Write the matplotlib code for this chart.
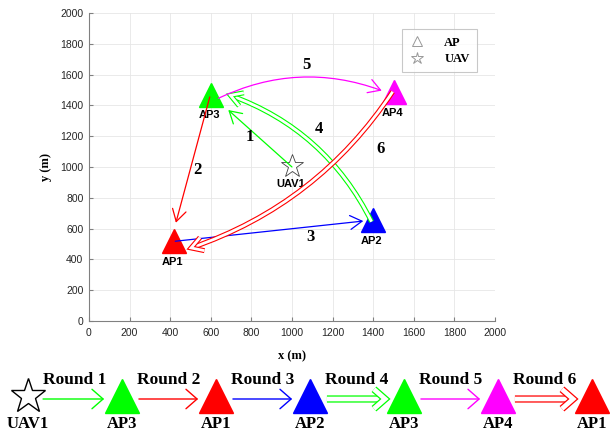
import numpy as np
import matplotlib
matplotlib.use('Agg')
import matplotlib.pyplot as plt
import matplotlib.patheffects as pe
from matplotlib.lines import Line2D

# access points and UAV (m)
ap_names = ['AP1', 'AP2', 'AP3', 'AP4']
ap_x = [420, 1400, 600, 1500]
ap_y = [520, 655, 1470, 1485]
ap_cols = ['#ff0000', '#0000ff', '#00ff00', '#ff00ff']
uav_x, uav_y = 1000, 1005

# flight rounds: start / end of each arrow
r_x0 = [1000, 595, 425, 1392, 637, 1496]
r_y0 = [1000, 1455, 518, 645, 1446, 1489]
r_x1 = [686, 428, 1351, 691, 1442, 497]
r_y1 = [1370, 638, 649, 1468, 1496, 472]
r_cols = ['#00ff00', '#ff0000', '#0000ff', '#00ff00', '#ff00ff', '#ff0000']
r_rad = [0, 0, 0, 0.2, -0.21, -0.17]
r_double = [False, False, False, True, False, True]
r_num = ['1', '2', '3', '4', '5', '6']
num_x = [790, 534, 1092, 1130, 1069, 1437]
num_y = [1197, 981, 544, 1245, 1662, 1115]

# bottom sequence
seq_names = ['UAV1', 'AP3', 'AP1', 'AP2', 'AP3', 'AP4', 'AP1']
seq_cols = ['none', '#00ff00', '#ff0000', '#0000ff', '#00ff00', '#ff00ff', '#ff0000']
round_labels = ['Round 1', 'Round 2', 'Round 3', 'Round 4', 'Round 5', 'Round 6']

serif = 'Liberation Serif'
sans = 'Liberation Sans'


def double_line(col, outer, inner):
    return [pe.Stroke(linewidth=outer, foreground=col, joinstyle='miter', capstyle='butt'),
            pe.Stroke(linewidth=inner, foreground='white', joinstyle='miter', capstyle='butt')]


fig = plt.figure(figsize=(6.1, 4.32), dpi=100)
ax = fig.add_axes([89/610, 1-321/432, 406/610, 308/432])

ax.set_xlim(0, 2000)
ax.set_ylim(0, 2000)
ax.set_xticks(np.arange(0, 2001, 200))
ax.set_yticks(np.arange(0, 2001, 200))
ax.grid(True, color='#e6e6e6', lw=0.6)
ax.set_axisbelow(True)
for s in ['top', 'right']:
    ax.spines[s].set_visible(False)
for s in ['left', 'bottom']:
    ax.spines[s].set_color('#808080')
    ax.spines[s].set_linewidth(0.8)
ax.tick_params(direction='in', length=3, color='#808080', labelsize=7.5,
               labelcolor='#262626', pad=4)
ax.tick_params(axis='x', pad=5)
for t in ax.get_xticklabels() + ax.get_yticklabels():
    t.set_fontfamily(sans)
ax.set_xlabel('x (m)', fontfamily=serif, fontweight='bold', fontsize=9, labelpad=9)
ax.set_ylabel('y (m)', fontfamily=serif, fontweight='bold', fontsize=9, labelpad=6)

for i in range(4):
    ax.plot(ap_x[i], ap_y[i], marker='^', ms=17, color=ap_cols[i], mec=ap_cols[i], zorder=2)
    ax.annotate(ap_names[i], (ap_x[i], ap_y[i]), xytext=(-1, -15), textcoords='offset points',
                ha='center', va='center', fontfamily=sans, fontweight='bold', fontsize=8)
ax.plot(uav_x, uav_y, marker='*', ms=17, mfc='white', mec='#404040', mew=0.6, zorder=2)
ax.annotate('UAV1', (uav_x, uav_y), xytext=(-1, -13), textcoords='offset points',
            ha='center', va='center', fontfamily=sans, fontweight='bold', fontsize=8)

for i in range(6):
    props = dict(arrowstyle='->,head_length=0.85,head_width=0.5', color=r_cols[i], lw=0.9,
                 shrinkA=0, shrinkB=0, connectionstyle='arc3,rad=%g' % r_rad[i])
    if r_double[i]:
        props['path_effects'] = double_line(r_cols[i], 3.6, 2.0)
    ax.annotate('', xy=(r_x1[i], r_y1[i]), xytext=(r_x0[i], r_y0[i]), arrowprops=props)
    ax.text(num_x[i], num_y[i], r_num[i], ha='center', va='center', fontfamily=serif,
            fontweight='bold', fontsize=12)

handles = [Line2D([], [], ls='none', marker='^', ms=7, mfc='none', mec='#999999', mew=0.7),
           Line2D([], [], ls='none', marker='*', ms=9, mfc='none', mec='#999999', mew=0.7)]
leg = ax.legend(handles, ['AP', 'UAV'], loc='upper right', bbox_to_anchor=(0.956, 0.948),
                borderaxespad=0, fancybox=False, edgecolor='#bbbbbb', handletextpad=1.6,
                handlelength=1.2, borderpad=0.6, labelspacing=0.35,
                prop={'family': serif, 'weight': 'bold', 'size': 9})
leg.get_frame().set_linewidth(0.8)

# bottom round sequence
ax2 = fig.add_axes([0, 0, 1, 72/432])
ax2.set_xlim(-28/94, 582/94)
ax2.set_ylim(72, 0)
ax2.axis('off')
n = len(seq_names)
ax2.plot(0, 36, marker='*', ms=26, mfc='white', mec='black', mew=1.0)
for i in range(1, n):
    ax2.plot(i, 36, marker='^', ms=24.5, color=seq_cols[i])
for i in range(n):
    ax2.text(i, 64, seq_names[i], ha='center', va='center', fontfamily=serif,
             fontweight='bold', fontsize=12)
for i in range(n - 1):
    x0 = i + (0.16 if i == 0 else 0.18)
    x1 = i + 1 - 0.19
    props = dict(arrowstyle='->,head_length=0.8,head_width=0.7', color=r_cols[i], lw=1.0,
                 shrinkA=0, shrinkB=0)
    if r_double[i]:
        props['path_effects'] = double_line(r_cols[i], 5.2, 3.4)
    ax2.annotate('', xy=(x1, 39), xytext=(x0, 39), arrowprops=props)
    ax2.text(i + 0.5, 20, round_labels[i], ha='center', va='center', fontfamily=serif,
             fontweight='bold', fontsize=12.5)

fig.savefig('out.png', dpi=100)
